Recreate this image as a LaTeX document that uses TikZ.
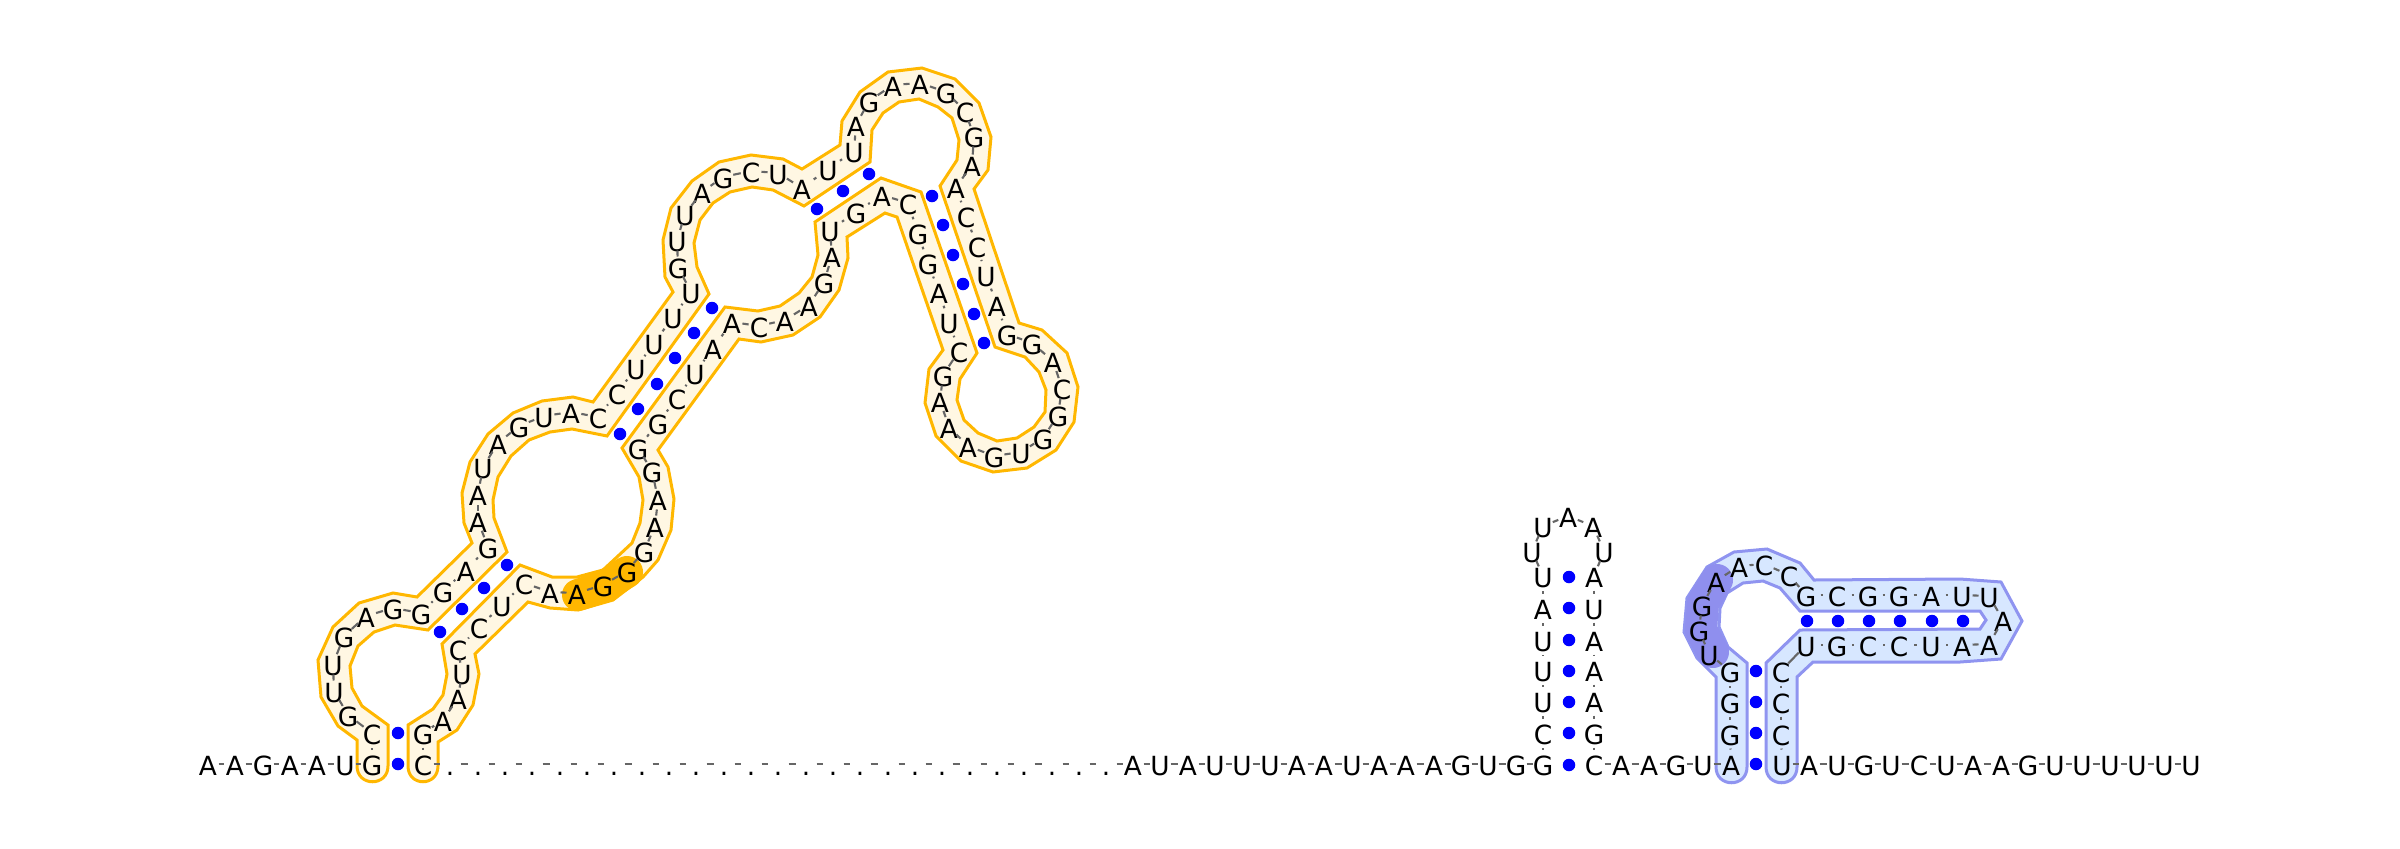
\documentclass[tikz,border=0pt]{standalone}
\usepackage{fontspec}
\setmainfont{DejaVu Sans}
\definecolor{haloorange}{HTML}{FFB700}
\definecolor{halocream}{HTML}{FFF7E3}
\definecolor{haloblue}{HTML}{8F94F0}
\definecolor{halosky}{HTML}{D7E7FF}
\definecolor{patchblue}{HTML}{8F8FEE}
\begin{document}
\begin{tikzpicture}[x=0.01cm, y=-0.01cm,
    base/.style = {inner sep=0pt, text height=6.6pt, text depth=0pt, yshift=.02cm, font=\fontsize{7.5}{8}\selectfont},
    pair/.style = {circle, fill=blue, inner sep=0pt, minimum size=.125cm},
    backbone/.style = {draw=black!60, line width=.6pt, shorten <=.105cm, shorten >=.105cm},
    stemlink/.style = {draw=black!60, line width=.6pt, shorten <=.145cm, shorten >=.145cm},
    halo/.style = {line width=.03cm},
    patch/.style = {line width=.32cm, line cap=round, line join=round}]
    \useasboundingbox (0,0) rectangle (2400,848);
    \path[halo, draw=haloorange, fill=halocream] (357,766) .. controls (357,787) and (388,787) .. (388,766) -- (388,725) -- (362,706) -- (352,688) -- (350,666) -- (358,646) -- (374,632) -- (395,625) -- (428,630) -- (507,552) -- (494,518) -- (493,500) -- (498,477) -- (511,456) -- (529,440) -- (550,432) -- (572,429) -- (607,436) -- (709,294) -- (697,267) -- (694,243) -- (700,220) -- (713,203) -- (730,192) -- (752,187) -- (773,190) -- (804,206) -- (870,162) -- (872,130) -- (883,113) -- (899,102) -- (919,99) -- (938,107) -- (952,118) -- (959,140) -- (957,160) -- (940,186) -- (995,347) -- (1025,357) -- (1039,372) -- (1046,390) -- (1045,412) -- (1034,427) -- (1017,438) -- (997,441) -- (978,433) -- (964,420) -- (957,400) -- (960,379) -- (977,353) -- (921,192) -- (881,178) -- (815,222) -- (818,255) -- (812,277) -- (799,293) -- (780,306) -- (758,311) -- (725,307) -- (622,448) -- (639,477) -- (643,500) -- (640,523) -- (632,543) -- (603,570) -- (577,577) -- (552,577) -- (520,565) -- (442,644) -- (447,674) -- (443,695) -- (433,709) -- (408,725) -- (408,766) .. controls (408,787) and (438,787) .. (438,766) -- (438,742) -- (457,730) -- (473,705) -- (479,674) -- (475,654) -- (528,602) -- (550,608) -- (578,610) -- (613,600) -- (643,577) -- (658,560) -- (671,530) -- (674,499) -- (668,467) -- (658,450) -- (739,339) -- (761,342) -- (793,335) -- (820,317) -- (839,290) -- (848,258) -- (847,237) -- (885,213) -- (897,217) -- (943,350) -- (929,369) -- (925,403) -- (936,436) -- (961,461) -- (993,472) -- (1027,468) -- (1056,450) -- (1074,422) -- (1078,387) -- (1067,353) -- (1042,330) -- (1019,323) -- (974,189) -- (988,170) -- (991,137) -- (979,103) -- (955,79) -- (922,68) -- (888,72) -- (860,92) -- (842,121) -- (840,145) -- (802,169) -- (783,159) -- (751,155) -- (719,162) -- (692,181) -- (671,208) -- (663,240) -- (665,277) -- (673,292) -- (593,402) -- (573,397) -- (542,401) -- (513,413) -- (488,434) -- (470,462) -- (462,493) -- (464,523) -- (472,543) -- (417,597) -- (393,593) -- (359,603) -- (333,627) -- (318,660) -- (321,697) -- (338,726) -- (357,740) -- cycle;
    \path[halo, draw=haloblue, fill=halosky] (1716,767) .. controls (1716,788) and (1747,788) .. (1747,767) -- (1747,663) -- (1728,647) -- (1719,627) -- (1720,608) -- (1727,593) -- (1743,583) -- (1763,581) -- (1780,588) -- (1800,611) -- (1980,611) -- (1986,620) -- (1980,629) -- (1800,630) -- (1766,663) -- (1766,767) .. controls (1766,788) and (1797,788) .. (1797,767) -- (1797,677) -- (1813,662) -- (1960,662) -- (2001,659) -- (2022,621) -- (2001,582) -- (1960,579) -- (1814,580) -- (1800,563) -- (1767,549) -- (1734,552) -- (1707,567) -- (1687,598) -- (1684,632) -- (1697,658) -- (1716,677) -- cycle;
    \draw[patch, haloorange] (578,595) -- (603,587) -- (627,572);
    \draw[patch, patchblue] (1713,652) -- (1701,630) -- (1703,603) -- (1717,580);
    \foreach \x/\y/\l [count=\n] in {208/766/A, 235/766/A, 263/766/G, 290/766/A, 317/766/A, 345/766/U, 372/766/G,
        372/735/C, 348/717/G, 334/693/U, 333/666/U, 344/638/G, 366/618/A, 393/610/G, 421/615/G, 443/593/G, 466/572/A, 488/549/G,
        478/523/A, 478/496/A, 483/469/U, 498/445/A, 519/428/G, 544/418/U, 571/414/A, 598/419/C, 617/395/C, 636/370/U, 654/345/U, 673/319/U, 691/294/U,
        678/269/G, 677/242/U, 685/216/U, 702/194/A, 723/179/G, 751/173/C, 778/175/U, 802/190/A, 828/171/U, 854/153/U,
        856/127/A, 869/103/G, 893/87/A, 920/85/A, 946/94/G, 965/113/C, 974/138/G, 972/167/A, 956/189/A,
        966/218/C, 977/248/C, 986/277/U, 997/307/A, 1007/336/G, 1032/345/G, 1053/363/A, 1062/390/C, 1058/417/G, 1043/440/G, 1021/454/U, 994/458/G, 968/448/A, 949/429/A, 940/403/A, 943/377/G, 959/353/C,
        949/324/U, 939/294/A, 928/265/G, 918/235/G, 908/205/C, 882/197/A, 856/214/G, 830/232/U,
        832/258/A, 824/284/G, 809/307/A, 785/322/A, 759/328/C, 732/324/A, 713/350/A, 695/375/U, 677/400/C, 658/425/G, 638/450/G,
        652/473/G, 658/501/A, 655/528/A, 644/553/G, 627/573/G, 603/587/G, 577/595/A, 550/594/A, 524/585/C, 502/607/U, 479/629/C, 458/651/C, 462/675/U, 458/700/A, 443/722/A, 423/735/G, 423/766/C,
        450/766/., 478/766/., 505/766/., 532/766/., 560/766/., 587/766/., 614/766/., 642/766/., 669/766/., 696/766/., 724/766/., 751/766/., 778/766/., 806/766/., 833/766/., 860/766/., 888/766/., 915/766/., 942/766/., 970/766/., 997/766/., 1024/766/., 1052/766/., 1079/766/., 1106/766/.,
        1133/766/A, 1160/766/U, 1188/766/A, 1215/766/U, 1242/766/U, 1270/766/U, 1297/766/A, 1324/766/A, 1352/766/U, 1379/766/A, 1406/766/A, 1434/766/A, 1461/766/G, 1488/766/U, 1516/766/G, 1543/766/G,
        1543/735/C, 1543/703/U, 1543/672/U, 1543/642/U, 1543/610/A, 1543/578/U, 1532/553/U, 1543/528/U, 1568/518/A, 1593/528/A, 1604/553/U, 1594/578/A, 1594/610/U, 1594/642/A, 1594/672/A, 1594/703/A, 1594/735/G, 1594/766/C,
        1621/766/A, 1649/766/A, 1676/766/G, 1703/766/U, 1731/766/A, 1730/736/G, 1730/704/G, 1730/673/G,
        1709/656/U, 1699/632/G, 1702/607/G, 1716/583/A, 1739/568/A, 1764/566/C, 1789/577/C, 1806/597/G, 1837/597/C, 1868/597/G, 1899/597/G, 1931/597/A, 1962/597/U, 1989/598/U, 2003/622/A,
        1989/646/A, 1962/647/A, 1931/647/U, 1899/647/C, 1868/647/C, 1837/647/G, 1806/647/U, 1781/673/C, 1781/704/C, 1781/736/C, 1782/766/U,
        1809/766/A, 1837/766/U, 1864/766/G, 1891/766/U, 1919/766/C, 1946/766/U, 1973/766/A, 2001/766/A, 2028/766/G, 2055/766/U, 2082/766/U, 2110/766/U, 2137/766/U, 2164/766/U, 2191/766/U} {
        \node[base] (b\n) at (\x,\y) {\l};
    }
    \foreach \from/\to/\link in {1/7/backbone, 7/8/stemlink, 8/15/backbone, 15/18/stemlink, 18/26/backbone, 26/31/stemlink, 31/39/backbone, 39/41/stemlink, 41/50/backbone, 50/55/stemlink, 55/67/backbone, 67/72/stemlink, 72/73/backbone, 73/75/stemlink, 75/81/backbone, 81/86/stemlink, 86/95/backbone, 95/98/stemlink, 98/102/backbone, 102/103/stemlink, 103/144/backbone, 144/150/stemlink, 150/156/backbone, 156/162/stemlink, 162/167/backbone, 167/170/stemlink, 170/178/backbone, 178/183/stemlink, 183/187/backbone, 187/192/stemlink, 192/193/backbone, 193/196/stemlink, 196/211/backbone} {
        \pgfmathtruncatemacro\first{\from+1}
        \foreach \j [remember=\j as \i (initially \from)] in {\first,...,\to}
            \draw[\link] (b\i.center) -- (b\j.center);
    }
    \foreach \x/\y [count=\n] in {398/764, 398/733, 440/632, 462/609, 484/588, 507/565, 620/434, 638/409, 657/384, 675/358, 694/333, 712/308, 817/209, 843/191, 869/174, 932/196, 943/225, 953/255, 963/284, 974/314, 984/343, 1569/765, 1569/733, 1569/702, 1569/671, 1569/640, 1569/608, 1569/577, 1756/764, 1756/733, 1756/702, 1756/671, 1807/621, 1838/621, 1869/621, 1900/621, 1932/621, 1963/621}
        \node[pair] (p\n) at (\x,\y) {};
\end{tikzpicture}
\end{document}
